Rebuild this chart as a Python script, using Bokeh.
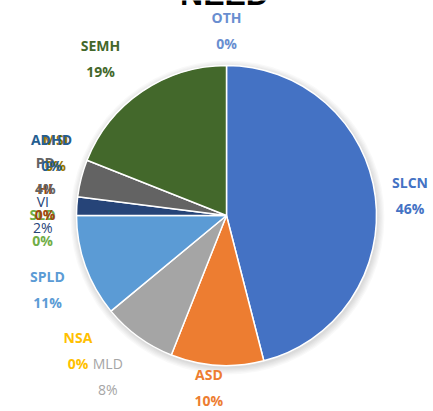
import math
from bokeh.plotting import figure
from bokeh.models import ColumnDataSource, Range1d
from bokeh.core.properties import value
from bokeh.embed import file_html
from bokeh.resources import INLINE

title = "NEED"
categories = ["SLCN", "ASD", "MLD", "NSA", "SPLD", "SLD", "VI", "HI", "PD", "MSI", "ADHD", "SEMH", "OTH"]
values = [46, 10, 8, 0, 11, 0, 2, 0, 4, 0, 0, 19, 0]
colors = ["#4472C4", "#ED7D31", "#A5A5A5", "#FFC000", "#5B9BD5", "#70AD47",
          "#264478", "#9E480E", "#636363", "#997300", "#255E91", "#43682B", "#698ED0"]
bold = [True, True, False, True, True, True, False, True, True, True, True, True, True]

# label nudges (pixels) from the outside-end anchor, mimicking the reference's collision layout
label_nudge = {"SLCN": (0, 3), "ASD": (-6, -13), "MLD": (-10, 11), "NSA": (-6, 17),
               "SPLD": (-5, 11), "SLD": (1, 12), "VI": (1, 11), "HI": (2, 9),
               "PD": (-2, 6), "MSI": (1, 5), "ADHD": (-3, 5), "SEMH": (-22, -4), "OTH": (0, 0)}

W, H = 433, 411
cx, cy, R = 226, 411 - 215, 150
label_r = 185

p = figure(width=W, height=H, output_backend="svg", toolbar_location=None,
           x_range=Range1d(0, W), y_range=Range1d(0, H), min_border=0)
p.axis.visible = False
p.grid.visible = False
p.outline_line_color = None

# soft shadow
for i in range(6):
    p.circle(x=[cx + 1], y=[cy - 2], radius=R + 1 + i * 1.2, fill_color="#000000",
             fill_alpha=0.025, line_color=None)

total = sum(values)
starts, ends, mids = [], [], []
acc = 0.0
for v in values:
    a0 = acc / total * 2 * math.pi
    acc += v
    a1 = acc / total * 2 * math.pi
    starts.append(math.pi / 2 - a0)
    ends.append(math.pi / 2 - a1)
    mids.append((a0 + a1) / 2)

nz = [i for i, v in enumerate(values) if v > 0]
src = ColumnDataSource(dict(start=[starts[i] for i in nz], end=[ends[i] for i in nz],
                            color=[colors[i] for i in nz], cat=[categories[i] for i in nz]))
p.wedge(x=cx, y=cy, radius=R, start_angle="start", end_angle="end", direction="clock",
        fill_color="color", line_color="white", line_width=1.5, source=src)

for cat, v, col, m, b in zip(categories, values, colors, mids, bold):
    dx, dy = label_nudge[cat]
    lx = cx + label_r * math.sin(m) + dx
    ly = cy + label_r * math.cos(m) - dy
    style = "bold" if b else "normal"
    p.text(x=[lx], y=[ly + 13], text=[cat], text_color=col, text_font=value("Open Sans"),
           text_font_size="14px", text_font_style=style, text_align="center",
           text_baseline="middle")
    p.text(x=[lx], y=[ly - 13], text=[f"{v}%"], text_color=col, text_font=value("Open Sans"),
           text_font_size="14px", text_font_style=style, text_align="center",
           text_baseline="middle")

p.text(x=[224], y=[418], text=[title], text_color="black", text_font=value("Liberation Sans"),
       text_font_size="32px", text_font_style="bold", text_align="center",
       text_baseline="alphabetic")

open("out.html", "w").write(file_html(p, INLINE))
